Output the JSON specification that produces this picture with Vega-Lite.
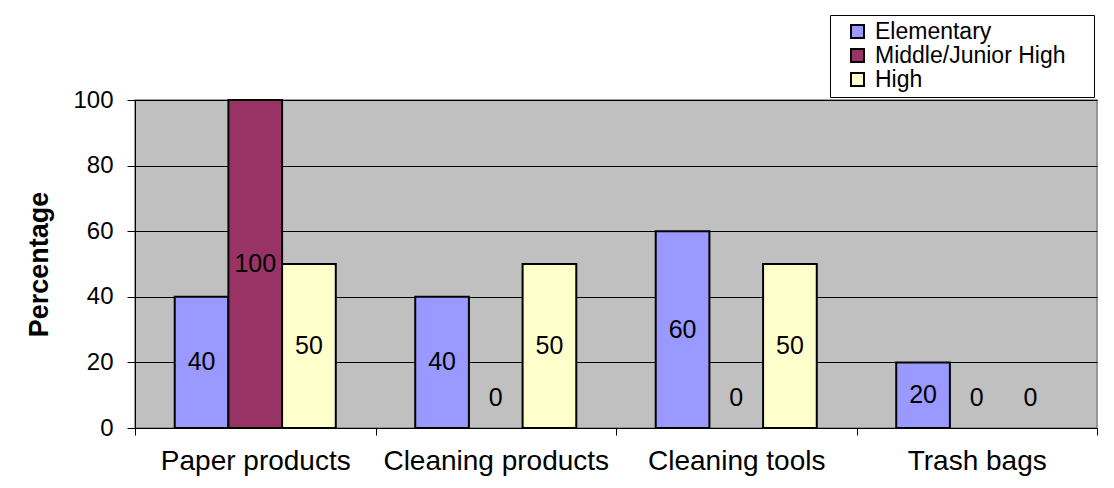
{
  "$schema": "https://vega.github.io/schema/vega-lite/v6.json",
  "width": 962,
  "height": 328,
  "autosize": {"type": "none"},
  "padding": {"left": 135, "top": 100, "right": 17, "bottom": 60},
  "background": "white",
  "config": {
    "font": "Liberation Sans",
    "view": {"fill": "#C0C0C0", "stroke": "#808080", "strokeWidth": 1.5}
  },
  "data": {
    "values": [
      {"category": "Paper products", "level": "Elementary", "value": 40},
      {"category": "Paper products", "level": "Middle/Junior High", "value": 100},
      {"category": "Paper products", "level": "High", "value": 50},
      {"category": "Cleaning products", "level": "Elementary", "value": 40},
      {"category": "Cleaning products", "level": "Middle/Junior High", "value": 0},
      {"category": "Cleaning products", "level": "High", "value": 50},
      {"category": "Cleaning tools", "level": "Elementary", "value": 60},
      {"category": "Cleaning tools", "level": "Middle/Junior High", "value": 0},
      {"category": "Cleaning tools", "level": "High", "value": 50},
      {"category": "Trash bags", "level": "Elementary", "value": 20},
      {"category": "Trash bags", "level": "Middle/Junior High", "value": 0},
      {"category": "Trash bags", "level": "High", "value": 0}
    ]
  },
  "encoding": {
    "x": {
      "field": "category",
      "type": "nominal",
      "sort": ["Paper products", "Cleaning products", "Cleaning tools", "Trash bags"],
      "scale": {"paddingInner": 0, "paddingOuter": 0},
      "axis": {
        "title": null,
        "labelAngle": 0,
        "labelFontSize": 28,
        "labelColor": "black",
        "labelLimit": 0,
        "labelPadding": 12,
        "tickBand": "extent",
        "ticks": true,
        "tickSize": 7,
        "tickColor": "black",
        "tickWidth": 1,
        "domainColor": "black",
        "domainWidth": 1,
        "grid": false
      }
    },
    "xOffset": {
      "field": "level",
      "type": "nominal",
      "sort": ["Elementary", "Middle/Junior High", "High"],
      "scale": {"paddingInner": 0, "paddingOuter": 0.74}
    }
  },
  "layer": [
    {
      "mark": {"type": "bar", "stroke": "black", "strokeWidth": 2},
      "encoding": {
        "y": {
          "field": "value",
          "type": "quantitative",
          "scale": {"domain": [0, 100]},
          "axis": {
            "title": "Percentage",
            "titleFontSize": 27,
            "titleFontWeight": "bold",
            "titleColor": "black",
            "titlePadding": 19,
            "values": [0, 20, 40, 60, 80, 100],
            "labelFontSize": 24,
            "labelColor": "black",
            "labelPadding": 14,
            "tickSize": 8,
            "tickColor": "black",
            "domainColor": "black",
            "grid": true,
            "gridColor": "black",
            "gridWidth": 1,
            "gridOpacity": 1
          }
        },
        "strokeOpacity": {
          "condition": {"test": "datum.value === 0", "value": 0},
          "value": 1
        },
        "fill": {
          "field": "level",
          "type": "nominal",
          "scale": {
            "domain": ["Elementary", "Middle/Junior High", "High"],
            "range": ["#9999FF", "#993366", "#FFFFCC"]
          },
          "legend": {
            "title": null,
            "orient": "none",
            "legendX": 695,
            "legendY": -85,
            "direction": "vertical",
            "padding": 5,
            "strokeColor": "black",
            "fillColor": "white",
            "symbolType": "square",
            "symbolSize": 169,
            "symbolStrokeColor": "black",
            "symbolStrokeWidth": 2,
            "symbolOffset": 11,
            "labelFontSize": 23,
            "labelColor": "black",
            "labelLimit": 0,
            "labelOffset": 6,
            "rowPadding": 0,
            "labelExpr": "datum.label + '\u00a0\u2800'"
          }
        }
      }
    },
    {
      "transform": [{"calculate": "max(datum.value / 2, 9)", "as": "labelPos"}],
      "mark": {"type": "text", "fontSize": 25, "color": "black", "baseline": "middle", "align": "center"},
      "encoding": {
        "y": {"field": "labelPos", "type": "quantitative"},
        "text": {"field": "value", "type": "quantitative"}
      }
    }
  ]
}
